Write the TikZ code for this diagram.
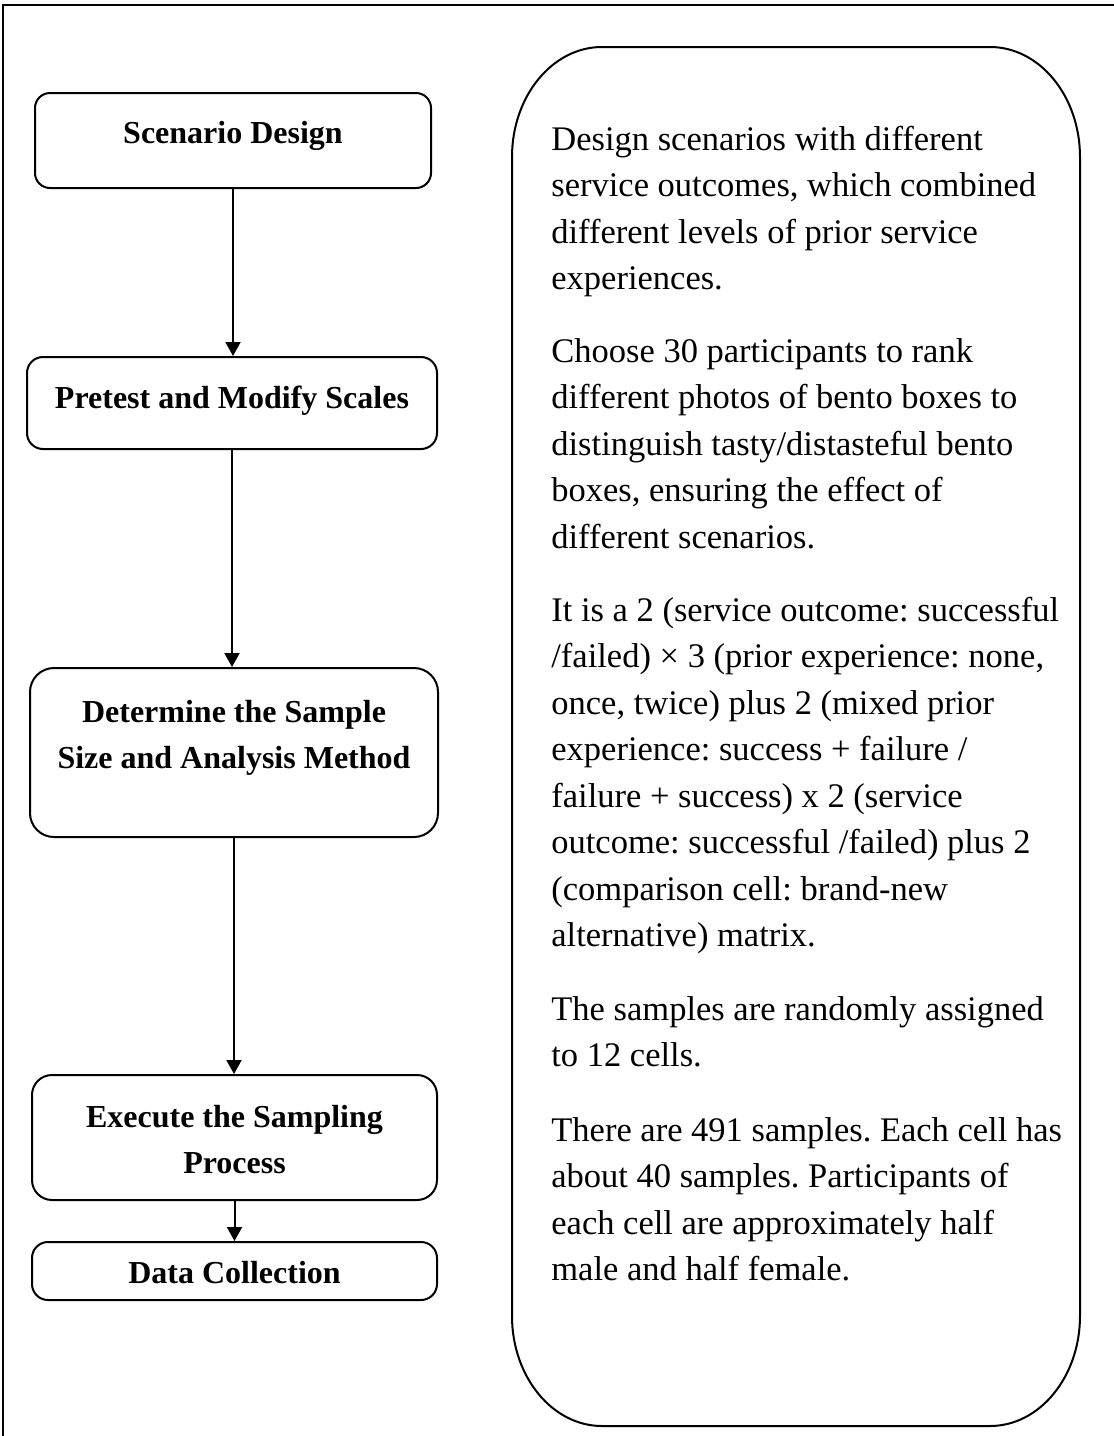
\documentclass[tikz,border=0pt]{standalone}
\usepackage{fontspec}
\setmainfont{Liberation Serif}
\usetikzlibrary{arrows.meta,fit}
\frenchspacing
\begin{document}
\begin{tikzpicture}[x=0.5pt,y=-0.5pt,
  box/.style={draw, line width=1pt, inner sep=0pt},
  lbl/.style={font=\fontsize{16}{23}\selectfont\bfseries, anchor=base, inner sep=0pt},
  para/.style={font=\fontsize{17.25}{23.25}\selectfont, anchor=base west, inner sep=0pt},
  arr/.style={line width=1pt, -{Triangle[length=7pt,width=7.5pt]}}]
\useasboundingbox (0,0) rectangle (1114,1436);
% outer frame (cropped)
\draw[line width=1.2pt] (3,1436) -- (3,5) -- (1114,5);

% left flow boxes
\node[box, rounded corners=7.5pt, fit={(35,93) (431,188)}] (b1) {};
\node[box, rounded corners=8pt, fit={(27,357) (437,449)}] (b2) {};
\node[box, rounded corners=12pt, fit={(30,668) (438,837)}] (b3) {};
\node[box, rounded corners=10pt, fit={(32,1075) (437,1200)}] (b4) {};
\node[box, rounded corners=8pt, fit={(32,1242) (437,1300)}] (b5) {};

\node[lbl] (t1) at (233,143) {Scenario Design};
\node[lbl] (t2) at (232,408) {Pretest and Modify Scales};
\node[lbl] (t3) at (234,722) {\parbox[t]{190pt}{\centering Determine the Sample\\Size and Analysis Method}};
\node[lbl] (t4) at (234.5,1127) {\parbox[t]{190pt}{\centering Execute the Sampling\\Process}};
\node[lbl] (t5) at (234.5,1283) {Data Collection};

\draw[arr] (b1.south) -- (b1.south |- b2.north);
\draw[arr] (b2.south) -- (b2.south |- b3.north);
\draw[arr] (b3.south) -- (b3.south |- b4.north);
\draw[arr] (b4.south) -- (b4.south |- b5.north);

% right rounded panel
\draw[line width=1pt] (602,47) -- (990,47)
  .. controls (1039.7,47) and (1080,96.3) .. (1080,157)
  -- (1080,1316)
  .. controls (1080,1376.7) and (1039.7,1426) .. (990,1426)
  -- (602,1426)
  .. controls (552.3,1426) and (512,1376.7) .. (512,1316)
  -- (512,157)
  .. controls (512,96.3) and (552.3,47) .. (602,47) -- cycle;

\node[para] (p1) at (551,150) {\parbox[t]{270pt}{\raggedright Design scenarios with different\\service outcomes, which combined\\different levels of prior service\\experiences.}};
\node[para] (p2) at (551,362) {\parbox[t]{270pt}{\raggedright Choose 30 participants to rank\\different photos of bento boxes to\\distinguish tasty/distasteful bento\\boxes, ensuring the effect of\\different scenarios.}};
\node[para] (p3) at (551,621) {\parbox[t]{270pt}{\raggedright It is a 2 (service outcome: successful\\/failed) × 3 (prior experience: none,\\once, twice) plus 2 (mixed prior\\experience: success + failure /\\failure + success) x 2 (service\\outcome: successful /failed) plus 2\\(comparison cell: brand-new\\alternative) matrix.}};
\node[para] (p4) at (551,1020) {\parbox[t]{270pt}{\raggedright The samples are randomly assigned\\to 12 cells.}};
\node[para] (p5) at (551,1141) {\parbox[t]{270pt}{\raggedright There are 491 samples. Each cell has\\about 40 samples. Participants of\\each cell are approximately half\\male and half female.}};
\end{tikzpicture}
\end{document}
